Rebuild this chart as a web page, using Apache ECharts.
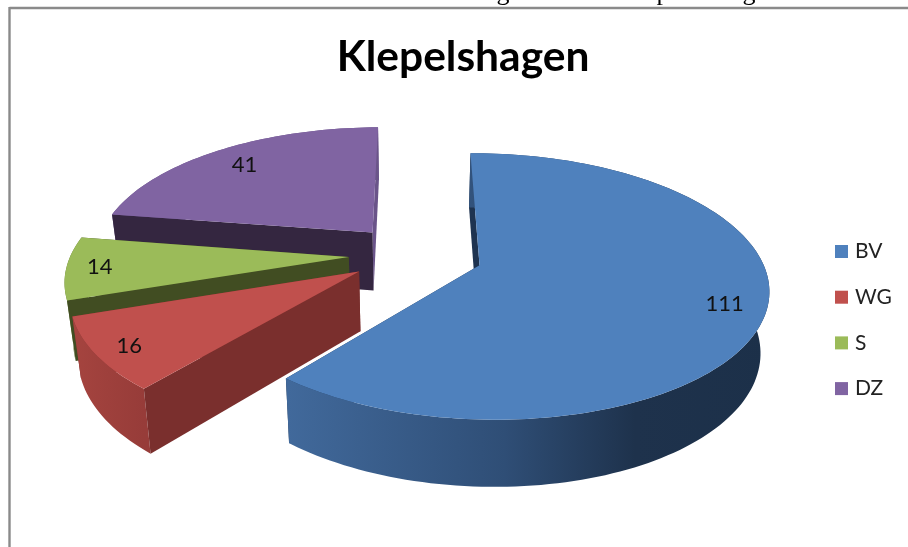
<!DOCTYPE html>
<html>
<head>
<meta charset="utf-8">
<style>html,body{margin:0;padding:0;background:#fff}#c{width:908px;height:547px}</style>
<script src="https://cdn.jsdelivr.net/npm/echarts@6/dist/echarts.min.js"></script>
</head>
<body>
<div id="c"></div>
<script>
const categories = ['BV', 'WG', 'S', 'DZ'];
const values = [111, 16, 14, 41];
const titleText = 'Klepelshagen';

const topColors = ['#4f81bd', '#c0504d', '#9bbb59', '#8064a2'];
const cutColors = ['#1e3350', '#7a2f2d', '#414d22', '#342640'];
const backCutColors = ['#1e3350', '#7a2f2d', '#414d22', '#6a5489'];
const rimStops = [
  [[0, '#41699b'], [0.45, '#2f4e76'], [0.72, '#1e324c'], [1, '#1c3049']],
  [[0, '#a5443f'], [1, '#973c39']],
  [[0, '#5f7631'], [1, '#5f7631']],
  [[0, '#6a5489'], [1, '#6a5489']]
];

// projection of the tilted disc
const CX = 413.5, CY = 254.4, AX = 282, BY = 128.7, P = 0.16, Q = -0.01;
const EXPLODE = [0.245, 0.23, 0.23, 0.23];
const RADIUS = [0.98, 1, 1, 1];
const DEPTH = 59, SHRINK = 0.975, LABEL_R = 0.85, STEP = 1.5;
const LABEL_SHIFT = [[4, -1], [-9, 5], [-9, 0], [5, 3]];

const total = values.reduce((a, b) => a + b, 0);
const rad = d => d * Math.PI / 180;
function project(u, v) {
  const w = 1 + P * v + Q * u;
  return { x: CX + AX * u / w, y: CY - BY * v / w, w };
}
function topPoint(i, a, r, mid) {
  const u = EXPLODE[i] * Math.sin(rad(mid)) + r * RADIUS[i] * Math.sin(rad(a));
  const v = EXPLODE[i] * Math.cos(rad(mid)) + r * RADIUS[i] * Math.cos(rad(a));
  return project(u, v);
}
function lower(p) {
  return [CX + (p.x - CX) * SHRINK, CY + (p.y - CY) * SHRINK + DEPTH / p.w];
}
const up = p => [p.x, p.y];

function sliceAngles(i) {
  let s = 0;
  for (let k = 0; k < i; k++) s += values[k];
  return [s / total * 360, (s + values[i]) / total * 360];
}
function poly(points, fill, z2) {
  return { type: 'polygon', z2, shape: { points }, style: { fill, stroke: null } };
}

function renderSlice(i) {
  const [a0, a1] = sliceAngles(i);
  const mid = (a0 + a1) / 2;
  const apex = topPoint(i, a0, 0, mid);
  const arc = [];
  for (let a = a0; a < a1; a += STEP) arc.push(topPoint(i, a, 1, mid));
  arc.push(topPoint(i, a1, 1, mid));

  const first = arc[0], last = arc[arc.length - 1];
  const wall = (p, q, fill, z2) => poly([up(p), up(q), lower(q), lower(p)], fill, z2);
  const children = [];

  // walls that face away first, walls that face the viewer after them
  const startFaces = a0 > 180;
  children.push(wall(apex, last, backCutColors[i], 1));
  children.push(wall(apex, first, cutColors[i], startFaces ? 3 : 1));

  const rimPts = arc.map(up).concat(arc.slice().reverse().map(lower));
  const xs = arc.map(p => p.x);
  children.push(poly(rimPts, {
    type: 'linear', global: true,
    x: i === 0 ? 288 : Math.min(...xs), y: 0,
    x2: i === 0 ? 770 : Math.max(...xs), y2: 0,
    colorStops: rimStops[i].map(s => ({ offset: s[0], color: s[1] }))
  }, 2));

  children.push(poly([up(apex)].concat(arc.map(up)), topColors[i], 4));

  const lp = topPoint(i, mid, LABEL_R, mid);
  children.push({
    type: 'text', z2: 5,
    style: {
      x: lp.x + LABEL_SHIFT[i][0], y: lp.y + LABEL_SHIFT[i][1],
      text: String(values[i]), align: 'center', verticalAlign: 'middle',
      fill: '#111', font: '22px Lato'
    }
  });
  return { type: 'group', children };
}

// painter's order: the far slices first
const drawOrder = [3, 2, 1, 0];
const series = drawOrder.map((i, n) => ({
  type: 'custom',
  name: categories[i],
  coordinateSystem: 'none',
  z: 2 + n,
  silent: true,
  itemStyle: { color: topColors[i] },
  data: [values[i]],
  renderItem: () => renderSlice(i)
}));

const chart = echarts.init(document.getElementById('c'), null, { renderer: 'canvas' });
chart.setOption({
  animation: false,
  backgroundColor: '#fff',
  title: {
    text: titleText, left: 458, top: 31, textAlign: 'center',
    textStyle: { fontFamily: 'Lato', fontWeight: 'bold', fontSize: 42.5, color: '#000' }
  },
  legend: {
    data: categories, orient: 'vertical', left: 835, top: 239, padding: 0,
    icon: 'rect', itemWidth: 13, itemHeight: 13, itemGap: 20.7,
    selectedMode: false,
    textStyle: { fontFamily: 'Lato', fontSize: 21, color: '#222', padding: [0, 0, 0, 2], lineHeight: 25 }
  },
  graphic: [
    { type: 'line', z: 0, shape: { x1: 9.5, y1: 8, x2: 908, y2: 8 }, style: { stroke: '#8a8a8a', lineWidth: 2.4 } },
    { type: 'line', z: 0, shape: { x1: 9.5, y1: 7, x2: 9.5, y2: 547 }, style: { stroke: '#8a8a8a', lineWidth: 2.4 } },
    { type: 'text', z: 0, style: { x: 503, y: 6, text: 'g', align: 'center', verticalAlign: 'bottom', fill: '#000', font: '26px "Liberation Serif"' } },
    { type: 'text', z: 0, style: { x: 663, y: 6, text: 'p', align: 'center', verticalAlign: 'bottom', fill: '#000', font: '26px "Liberation Serif"' } },
    { type: 'text', z: 0, style: { x: 749, y: 6, text: 'g', align: 'center', verticalAlign: 'bottom', fill: '#000', font: '26px "Liberation Serif"' } }
  ],
  series
});
</script>
</body>
</html>
